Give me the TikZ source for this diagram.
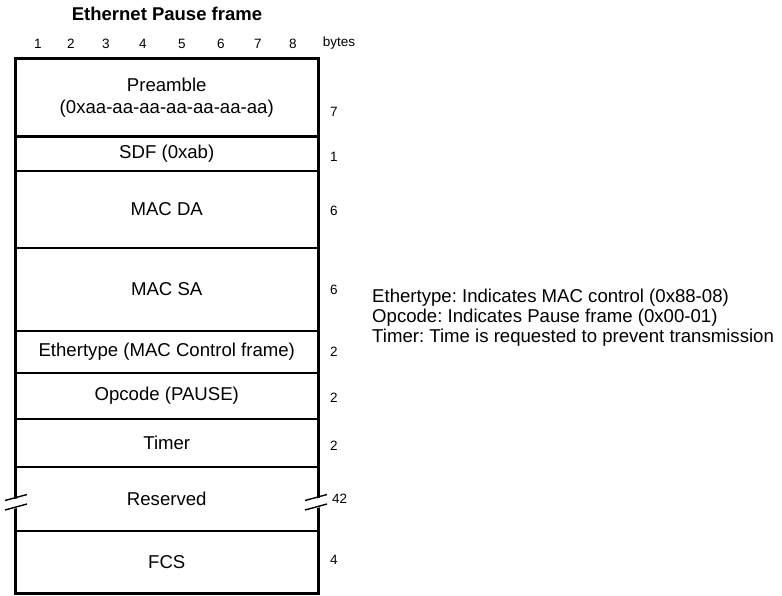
\documentclass[tikz,border=0pt]{standalone}
\usepackage{fontspec}
\setmainfont{Liberation Sans}
\usetikzlibrary{positioning}
\frenchspacing

\begin{document}
\begin{tikzpicture}[
    x=1pt, y=-1pt,
    node distance=0pt and 12pt,
    field/.style={draw, line width=2.2pt, inner sep=0pt, outer sep=0pt, minimum width=302.5pt, align=center, font=\fontsize{18.6}{22}\selectfont},
    bytecount/.style={inner sep=0pt, font=\fontsize{13.5}{15}\selectfont},
    colnum/.style={inner sep=0pt, anchor=base, font=\fontsize{13.5}{15}\selectfont},
    breakmark/.style={line width=1.4pt},
]
\useasboundingbox (0,0) rectangle (782,596);
\node[font=\bfseries\fontsize{18.5}{20}\selectfont, inner sep=0pt] (title) at (167,14) {Ethernet Pause frame};
\foreach \n/\x in {1/38,2/71,3/106,4/143,5/182,6/221,7/258,8/293}
    \node[colnum] (col\n) at (\x,49) {\n};
\node[colnum] (bytes) at (339,47) {bytes};
\node[field, minimum height=78pt, anchor=north] (pre) at (166.75,58.5) {Preamble\\(0xaa-aa-aa-aa-aa-aa-aa)};
\node[field, minimum height=34.5pt, below=of pre] (sdf) {SDF (0xab)};
\node[field, minimum height=77pt, below=of sdf] (da) {MAC DA};
\node[field, minimum height=83pt, below=of da] (sa) {MAC SA};
\node[field, minimum height=42pt, below=of sa] (etype) {Ethertype (MAC Control frame)};
\node[field, minimum height=46pt, below=of etype] (opcode) {Opcode (PAUSE)};
\node[field, minimum height=48pt, below=of opcode] (timer) {Timer};
\node[field, minimum height=64pt, below=of timer] (rsvd) {Reserved};
\node[field, minimum height=62.5pt, below=of rsvd] (fcs) {FCS};
\draw[line width=3pt] (pre.north west) rectangle (fcs.south east);
\node[bytecount, right=of pre, yshift=-14pt] (npre) {7};
\node[bytecount, right=of sdf, yshift=-3pt] (nsdf) {1};
\node[bytecount, right=of da, yshift=-1.5pt] (nda) {6};
\node[bytecount, right=of sa] (nsa) {6};
\node[bytecount, right=of etype] (netype) {2};
\node[bytecount, right=of opcode, yshift=-2pt] (nopcode) {2};
\node[bytecount, right=of timer, yshift=-3pt] (ntimer) {2};
\node[bytecount, right=of rsvd, xshift=2pt] (nrsvd) {42};
\node[bytecount, right=of fcs, yshift=2pt] (nfcs) {4};
% break marks on the reserved field
\foreach \x in {5,305} {
    \fill[white] (\x+4,500.5) -- (\x+18,497) -- (\x+18,506.5) -- (\x+4,510) -- cycle;
    \draw[breakmark] (\x,500.5) -- (\x+22,494.5);
    \draw[breakmark] (\x,510) -- (\x+22,504);
}
\node[anchor=west, align=left, inner sep=0pt, font=\fontsize{18.6}{20}\selectfont] (note) at (372,318)
    {Ethertype: Indicates MAC control (0x88-08)\\
     Opcode: Indicates Pause frame (0x00-01)\\
     Timer: Time is requested to prevent transmission};
\end{tikzpicture}
\end{document}
